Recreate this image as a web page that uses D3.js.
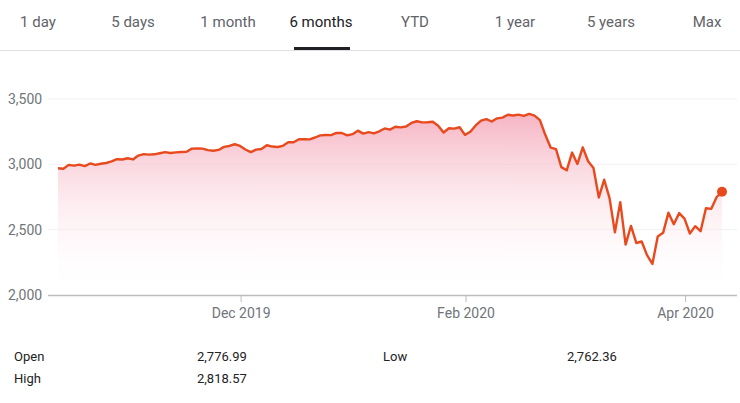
<!DOCTYPE html>
<html><head><meta charset="utf-8">
<script src="https://cdn.jsdelivr.net/npm/d3@7"></script>
<style>body{margin:0;background:#fff;font-family:Roboto,Arial,sans-serif}</style>
</head><body><svg id="chart" width="740" height="403"></svg>
<script>
var tabs = ["1 day","5 days","1 month","6 months","YTD","1 year","5 years","Max"];
var tabX = [38,133,228,321,415,515,611,707];
var activeTab = "6 months";
var yTicks = [2000,2500,3000,3500];
var xTickDates = ["2019-12-02","2020-02-03","2020-04-01"];
var xTickLabels = ["Dec 2019","Feb 2020","Apr 2020"];
var dates = ["2019-10-11","2019-10-14","2019-10-15","2019-10-16","2019-10-17","2019-10-18","2019-10-21","2019-10-22","2019-10-23","2019-10-24","2019-10-25","2019-10-28","2019-10-29","2019-10-30","2019-10-31",
"2019-11-01","2019-11-04","2019-11-05","2019-11-06","2019-11-07","2019-11-08","2019-11-11","2019-11-12","2019-11-13","2019-11-14","2019-11-15","2019-11-18","2019-11-19","2019-11-20","2019-11-21","2019-11-22","2019-11-25","2019-11-26","2019-11-27","2019-11-29",
"2019-12-02","2019-12-03","2019-12-04","2019-12-05","2019-12-06","2019-12-09","2019-12-10","2019-12-11","2019-12-12","2019-12-13","2019-12-16","2019-12-17","2019-12-18","2019-12-19","2019-12-20","2019-12-23","2019-12-24","2019-12-26","2019-12-27","2019-12-30","2019-12-31",
"2020-01-02","2020-01-03","2020-01-06","2020-01-07","2020-01-08","2020-01-09","2020-01-10","2020-01-13","2020-01-14","2020-01-15","2020-01-16","2020-01-17","2020-01-21","2020-01-22","2020-01-23","2020-01-24","2020-01-27","2020-01-28","2020-01-29","2020-01-30","2020-01-31",
"2020-02-03","2020-02-04","2020-02-05","2020-02-06","2020-02-07","2020-02-10","2020-02-11","2020-02-12","2020-02-13","2020-02-14","2020-02-18","2020-02-19","2020-02-20","2020-02-21","2020-02-24","2020-02-25","2020-02-26","2020-02-27","2020-02-28",
"2020-03-02","2020-03-03","2020-03-04","2020-03-05","2020-03-06","2020-03-09","2020-03-10","2020-03-11","2020-03-12","2020-03-13","2020-03-16","2020-03-17","2020-03-18","2020-03-19","2020-03-20","2020-03-23","2020-03-24","2020-03-25","2020-03-26","2020-03-27","2020-03-30","2020-03-31",
"2020-04-01","2020-04-02","2020-04-03","2020-04-06","2020-04-07","2020-04-08","2020-04-09"];
var closes = [2970.27,2966.15,2995.68,2989.69,2997.95,2986.20,3006.72,2995.99,3004.52,3010.29,3022.55,3039.42,3036.89,3046.77,3037.56,
3066.91,3078.27,3074.62,3076.78,3085.18,3093.08,3087.01,3091.84,3094.04,3096.63,3120.46,3122.03,3120.18,3108.46,3103.54,3110.29,3133.64,3140.52,3153.63,3140.98,
3113.87,3093.20,3112.76,3117.43,3145.91,3135.96,3132.52,3141.63,3168.57,3168.80,3191.45,3192.52,3191.14,3205.37,3221.22,3224.01,3223.38,3239.91,3240.02,3221.29,3230.78,
3257.85,3234.85,3246.28,3237.18,3253.05,3274.70,3265.35,3288.13,3283.15,3289.29,3316.81,3329.62,3320.79,3321.75,3325.54,3295.47,3243.63,3276.24,3273.40,3283.66,3225.52,
3248.92,3297.59,3334.69,3345.78,3327.71,3352.09,3357.75,3379.45,3373.94,3380.16,3370.29,3386.15,3373.23,3337.75,3225.89,3128.21,3116.39,2978.76,2954.22,
3090.23,3003.37,3130.12,3023.94,2972.37,2746.56,2882.23,2741.38,2480.64,2711.02,2386.13,2529.19,2398.10,2409.39,2304.92,2237.40,2447.33,2475.56,2630.07,2541.47,2626.65,2584.59,
2470.50,2526.90,2488.65,2663.68,2659.41,2749.98,2789.82];
var statLabels = ["Open","High","Low"];
var statValues = ["2,776.99","2,818.57","2,762.36"];

var data = dates.map(function(d,i){ return {i: i, date: d, value: closes[i]}; });

var svg = d3.select("#chart");

// tabs
svg.selectAll("text.tab").data(tabs).enter().append("text")
	.attr("x", function(d,i){ return tabX[i]; }).attr("y", 27)
	.attr("text-anchor","middle").attr("font-size",15)
	.attr("fill", function(d){ return d==activeTab ? "#202124" : "#5f6368"; })
	.text(function(d){ return d; });
svg.append("rect").attr("x",0).attr("y",50).attr("width",740).attr("height",1).attr("fill","#e0e0e0");
svg.append("rect").attr("x",294).attr("y",47).attr("width",56).attr("height",3).attr("fill","#202124");

// trading-day scale
var x = d3.scaleLinear().domain([0, data.length-1]).range([58,722]);
var y = d3.scaleLinear().domain([2000,3500]).range([295,99]);

var grad = svg.append("defs").append("linearGradient").attr("id","fill")
	.attr("x1",0).attr("y1",0).attr("x2",0).attr("y2",1);
grad.append("stop").attr("offset","0%").attr("stop-color","#f4a7b9").attr("stop-opacity",0.85);
grad.append("stop").attr("offset","100%").attr("stop-color","#ffffff").attr("stop-opacity",0);

svg.selectAll("line.grid").data(yTicks.slice(1)).enter().append("line")
	.attr("x1",48).attr("x2",737).attr("y1",function(d){return y(d);}).attr("y2",function(d){return y(d);})
	.attr("stroke","#f1f1f1");

var area = d3.area().x(function(d){return x(d.i);}).y0(y(2000)).y1(function(d){return y(d.value);});
svg.append("path").datum(data).attr("d",area).attr("fill","url(#fill)");

var line = d3.line().x(function(d){return x(d.i);}).y(function(d){return y(d.value);});
svg.append("path").datum(data).attr("d",line).attr("fill","none")
	.attr("stroke","#e8491d").attr("stroke-width",2.4).attr("stroke-linejoin","round");

var last = data[data.length-1];
svg.append("circle").attr("cx",x(last.i)).attr("cy",y(last.value)).attr("r",5).attr("fill","#e8491d");

svg.selectAll("text.yl").data(yTicks).enter().append("text")
	.attr("x",8).attr("y",function(d){return y(d)+5;}).attr("font-size",14).attr("fill","#70757a")
	.text(d3.format(","));

svg.append("line").attr("x1",48).attr("x2",737).attr("y1",295.5).attr("y2",295.5).attr("stroke","#bdbdbd").attr("stroke-width",1.5);
xTickDates.forEach(function(d,i){
	var xx = x(dates.indexOf(d) - 0.8);
	svg.append("line").attr("x1",xx).attr("x2",xx).attr("y1",295).attr("y2",302).attr("stroke","#bdbdbd");
	svg.append("text").attr("x",xx).attr("y",318).attr("text-anchor","middle").attr("font-size",14)
		.attr("fill","#70757a").text(xTickLabels[i]);
});

var statPos = [[14,197,361],[14,197,383],[383,567,361]];
statLabels.forEach(function(l,i){
	svg.append("text").attr("x",statPos[i][0]).attr("y",statPos[i][2]).attr("font-size",13).attr("fill","#222").text(l);
	svg.append("text").attr("x",statPos[i][1]).attr("y",statPos[i][2]).attr("font-size",13).attr("fill","#222").text(statValues[i]);
});
</script></body></html>
